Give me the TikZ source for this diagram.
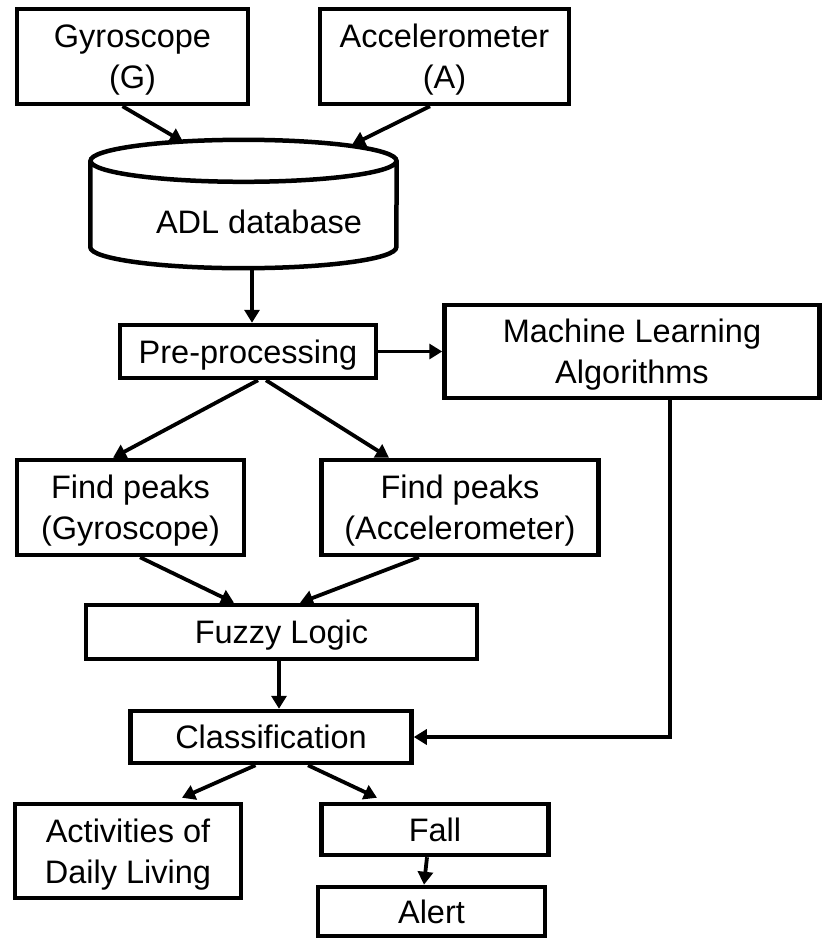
\documentclass[tikz,border=0pt]{standalone}
\usepackage{fontspec}
\setmainfont{Liberation Sans}
\usetikzlibrary{arrows.meta}

\tikzset{
  box/.style={draw, line width=4.5pt, inner sep=0pt, align=center, text depth=0pt,
              font=\fontsize{32.5}{41}\selectfont},
  lbl/.style={inner sep=0pt, align=center, font=\fontsize{32.5}{41}\selectfont},
  arr/.style={line width=3.8pt, -{Triangle[length=13pt,width=15pt]}}
}

\begin{document}
\begin{tikzpicture}[x=1pt,y=-1pt]
\fill[white] (0,0) rectangle (826,940);
\useasboundingbox (0,0) rectangle (826,940);

% sensors
\node[box, minimum width=231pt, minimum height=95pt] (gyro) at (132.5,56.5) {Gyroscope\\(G)};
\node[box, minimum width=249pt, minimum height=95pt] (acc) at (444.5,56.5) {Accelerometer\\(A)};

% database cylinder
\node[inner sep=0pt, minimum width=306pt, minimum height=128pt] (db) at (243.5,204) {};
\draw[line width=4.5pt] ([yshift=-21pt]db.north) ellipse [x radius=153pt, y radius=21pt];
\draw[line width=4.5pt] ([yshift=-21pt]db.north west) -- ([yshift=21pt]db.south west)
  arc[start angle=180, end angle=360, x radius=153pt, y radius=21pt]
  -- ([yshift=-21pt]db.north east);
\node[lbl] (dbtext) at ([xshift=15.5pt,yshift=-18pt]db.center) {ADL database};

% processing chain
\node[box, minimum width=256pt, minimum height=53pt] (pre) at (248,351.5) {Pre-processing};
\node[box, minimum width=375pt, minimum height=93pt] (ml) at (632,351.5) {Machine Learning\\Algorithms};
\node[box, minimum width=227pt, minimum height=95pt] (fpg) at (130.5,507.5) {Find peaks\\(Gyroscope)};
\node[box, minimum width=277pt, minimum height=95pt] (fpa) at (460,507.5) {Find peaks\\(Accelerometer)};
\node[box, minimum width=391pt, minimum height=54pt] (fuzzy) at (281.5,632) {Fuzzy Logic};
\node[box, minimum width=281pt, minimum height=52pt] (class) at (271,737) {Classification};

% outcomes
\node[box, minimum width=226pt, minimum height=94pt] (adl) at (128,851) {Activities of\\Daily Living};
\node[box, minimum width=227pt, minimum height=51pt] (fall) at (435,829.5) {Fall};
\node[box, minimum width=227pt, minimum height=49pt] (alert) at (431.5,911.5) {Alert};

% connectors
\draw[arr] ([xshift=-10pt]gyro.south) -- ([xshift=-60.5pt,yshift=-2pt]db.north);
\draw[arr] ([xshift=-14.5pt]acc.south) -- ([xshift=108.5pt,yshift=-5pt]db.north);
\draw[arr] ([xshift=8.5pt]db.south) -- ([xshift=8.5pt]db.south |- pre.north);
\draw[arr] (pre.east) -- (ml.west);
\draw[arr] ([xshift=10pt]pre.south) -- ([xshift=-17.5pt]fpg.north);
\draw[arr] ([xshift=18pt]pre.south) -- ([xshift=-71pt]fpa.north);
\draw[arr] ([xshift=9.5pt]fpg.south) -- ([xshift=-47.5pt]fuzzy.north);
\draw[arr] ([xshift=-41pt]fpa.south) -- ([xshift=18.5pt]fuzzy.north);
\draw[arr] ([xshift=-2.5pt]fuzzy.south) -- ([xshift=-2.5pt]fuzzy.south |- class.north);
\draw[arr] ([xshift=38pt]ml.south) |- (class.east);
\draw[arr] ([xshift=-15.5pt]class.south) -- ([xshift=54pt,yshift=4pt]adl.north);
\draw[arr] ([xshift=37pt]class.south) -- ([xshift=-58pt,yshift=4pt]fall.north);
\draw[arr] ([xshift=-8pt]fall.south) -- ([xshift=-7.5pt]alert.north);
\end{tikzpicture}
\end{document}
